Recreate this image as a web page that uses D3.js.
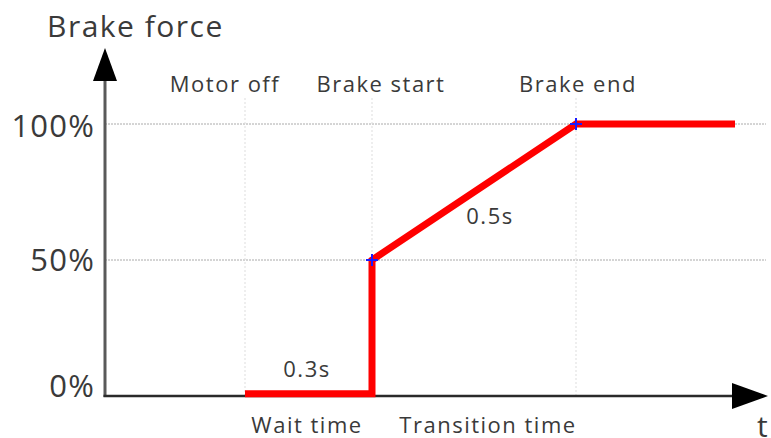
<!DOCTYPE html>
<html>
<head>
  <meta charset="utf-8">
  <style>
    body { margin: 0; background: #fff; }
    svg text { font-family: "Open Sans", "Noto Sans", sans-serif; fill: #3a3a3a; }
  </style>
  <script src="https://d3js.org/d3.v7.min.js"></script>
</head>
<body>
  <script>
    // schematic time positions (not to scale)
    var eventNames = ["Motor off", "Brake start", "Brake end"];
    var eventX = [1.4, 2.67, 4.71];
    var lineX = [1.4, 2.67, 2.67, 4.71, 6.3];
    var lineY = [0.8, 0.8, 50, 100, 100];
    var markerIdx = [2, 3];
    var yTicks = [0, 50, 100];
    var yTickLabels = ["0%", "50%", "100%"];
    var spanLabels = ["0.3s", "0.5s"];
    var phaseLabels = ["Wait time", "Transition time"];

    var W = 771, H = 438;
    var xMax = 6.63;
    var x = d3.scaleLinear().domain([0, xMax]).range([105, 768]);
    var y = d3.scaleLinear().domain([0, 100]).range([396, 124]);
    var yTop = 48;

    var svg = d3.select("body").append("svg")
      .attr("width", W).attr("height", H);

    // horizontal dotted grid
    svg.selectAll(".hgrid")
      .data(yTicks.filter(function(d) { return d > 0; }))
      .enter().append("line")
      .attr("x1", x(0)).attr("x2", 766)
      .attr("y1", function(d) { return y(d); })
      .attr("y2", function(d) { return y(d); })
      .attr("stroke", "#aaa").attr("stroke-width", 1)
      .attr("stroke-dasharray", "2,1");

    // vertical dotted event lines
    svg.selectAll(".vgrid")
      .data(eventX)
      .enter().append("line")
      .attr("x1", function(d) { return x(d); })
      .attr("x2", function(d) { return x(d); })
      .attr("y1", y(0)).attr("y2", 97)
      .attr("stroke", "#ddd").attr("stroke-width", 1)
      .attr("stroke-dasharray", "2,2");

    // axes
    svg.append("line")
      .attr("x1", x(0)).attr("y1", y(0) + 1)
      .attr("x2", x(0)).attr("y2", yTop + 20)
      .attr("stroke", "#5a5a5a").attr("stroke-width", 3);
    svg.append("path")
      .attr("d", "M" + x(0) + "," + yTop + "L" + (x(0) + 12) + "," + (yTop + 33) +
                 "L" + (x(0) - 12) + "," + (yTop + 33) + "Z")
      .attr("fill", "#000");

    svg.append("line")
      .attr("x1", x(0) - 1.5).attr("y1", y(0))
      .attr("x2", x(xMax) - 20).attr("y2", y(0))
      .attr("stroke", "#2a2a2a").attr("stroke-width", 2.5);
    svg.append("path")
      .attr("d", "M" + x(xMax) + "," + y(0) + "L" + (x(xMax) - 36) + "," + (y(0) - 13) +
                 "L" + (x(xMax) - 36) + "," + (y(0) + 13) + "Z")
      .attr("fill", "#000");

    // y tick labels
    var tickDy = [1, 11, 13];
    svg.selectAll(".ylab")
      .data(yTicks)
      .enter().append("text")
      .attr("x", 95)
      .attr("y", function(d, i) { return y(d) + tickDy[i]; })
      .attr("text-anchor", "end")
      .attr("font-size", 31)
      .attr("letter-spacing", 1.2)
      .text(function(d, i) { return yTickLabels[i]; });

    svg.append("text")
      .attr("x", 47).attr("y", 37)
      .attr("font-size", 30)
      .attr("letter-spacing", 1.5)
      .text("Brake force");
    svg.append("text")
      .attr("x", 757).attr("y", 437)
      .attr("font-size", 30)
      .text("t");

    // event labels
    svg.selectAll(".evlab")
      .data(eventNames)
      .enter().append("text")
      .attr("x", function(d, i) { return [225, 381, 578][i]; })
      .attr("y", 92)
      .attr("text-anchor", "middle")
      .attr("font-size", 22)
      .attr("letter-spacing", 1.5)
      .text(function(d) { return d; });

    // brake force curve
    var pts = lineX.map(function(d, i) { return [x(d), y(lineY[i])]; });
    svg.append("path")
      .attr("d", d3.line()(pts))
      .attr("fill", "none")
      .attr("stroke", "#ff0000")
      .attr("stroke-width", 7)
      .attr("stroke-linejoin", "miter");

    // blue cross markers
    markerIdx.forEach(function(i) {
      var cx = x(lineX[i]), cy = y(lineY[i]);
      svg.append("path")
        .attr("d", "M" + (cx - 6) + "," + cy + "H" + (cx + 6) + "M" + cx + "," + (cy - 6) + "V" + (cy + 6))
        .attr("stroke", "#1a1aff").attr("stroke-width", 2);
    });

    // span labels
    svg.append("text")
      .attr("x", 307).attr("y", 377)
      .attr("text-anchor", "middle").attr("font-size", 22)
      .attr("letter-spacing", 1.5)
      .text(spanLabels[0]);
    svg.append("text")
      .attr("x", 490).attr("y", 224)
      .attr("text-anchor", "middle").attr("font-size", 22)
      .attr("letter-spacing", 1.5)
      .text(spanLabels[1]);

    svg.append("text")
      .attr("x", 307).attr("y", 433)
      .attr("text-anchor", "middle").attr("font-size", 22)
      .attr("letter-spacing", 1.5)
      .text(phaseLabels[0]);
    svg.append("text")
      .attr("x", 488).attr("y", 433)
      .attr("text-anchor", "middle").attr("font-size", 22)
      .attr("letter-spacing", 1.5)
      .text(phaseLabels[1]);
  </script>
</body>
</html>
